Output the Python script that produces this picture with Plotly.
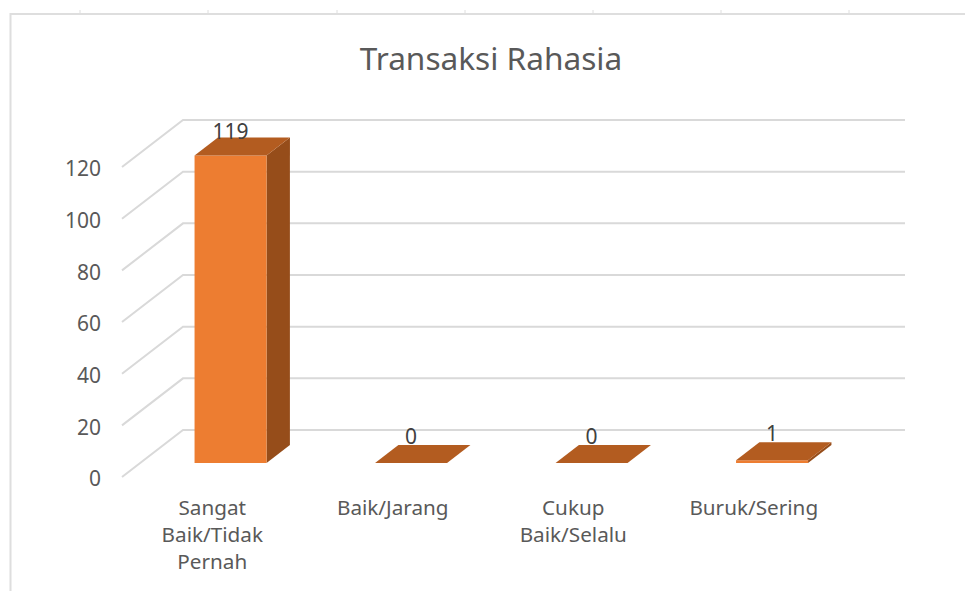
import plotly.graph_objects as go

TITLE = "Transaksi Rahasia"
categories = ["Sangat<br>Baik/Tidak<br>Pernah", "Baik/Jarang", "Cukup<br>Baik/Selalu", "Buruk/Sering"]
values = [119, 0, 0, 1]
value_ticks = [0, 20, 40, 60, 80, 100, 120]

# oblique projection of the 3D look, in axis units
PX_X, PX_Y = 180.5, 2.583          # pixels per category / per value
DEPTH_X, DEPTH_Y = 61 / PX_X, 47 / PX_Y
BAR_W = 72 / PX_X
D0, D1 = 0.30, 0.683
FONT = "Noto Sans"
TEXT = "#595959"
GRID = "#D9D9D9"
FRONT, TOP, SIDE = "#ED7D31", "#B35C20", "#964D1A"


def proj(cat, val, d):
    return cat + d * DEPTH_X, val + d * DEPTH_Y


def poly(points, color):
    xs, ys = zip(*[proj(*p) for p in points])
    return go.Scatter(x=list(xs) + [xs[0]], y=list(ys) + [ys[0]], mode="lines", fill="toself",
                      fillcolor=color, line=dict(width=0), hoverinfo="skip", showlegend=False)


def line(points):
    xs, ys = zip(*[proj(*p) for p in points])
    return go.Scatter(x=xs, y=ys, mode="lines", line=dict(color=GRID, width=2),
                      hoverinfo="skip", showlegend=False)


fig = go.Figure()
for t in value_ticks:
    fig.add_trace(line([(-0.5, t, 0), (-0.5, t, 1), (3.5, t, 1)]))

for i, v in enumerate(values):
    l, r = i - BAR_W / 2, i + BAR_W / 2
    fig.add_trace(poly([(r, 0, D0), (r, 0, D1), (r, v, D1), (r, v, D0)], SIDE))
    fig.add_trace(poly([(l, 0, D0), (r, 0, D0), (r, v, D0), (l, v, D0)], FRONT))
    fig.add_trace(poly([(l, v, D0), (r, v, D0), (r, v, D1), (l, v, D1)], TOP))

lx, ly = [], []
for i, v in enumerate(values):
    x, y = proj(i, v, D0)
    lx.append(x)
    ly.append(y + (22 if v > 100 else 24.5) / PX_Y)
fig.add_trace(go.Scatter(x=lx, y=ly, mode="text", text=[str(v) for v in values],
                         textposition="middle center",
                         textfont=dict(family=FONT, size=21, color="#404040"),
                         hoverinfo="skip", showlegend=False, cliponaxis=False))

W, H = 965, 591
LEFT, BOTTOM_PX = 102, 490
fig.update_layout(
    width=W, height=H, autosize=False,
    margin=dict(l=LEFT, r=0, t=0, b=H - BOTTOM_PX, pad=0),
    paper_bgcolor="white", plot_bgcolor="rgba(0,0,0,0)", showlegend=False,
    title=dict(text=TITLE, x=491 / W, xanchor="center", y=1 - 59 / H, yanchor="middle",
               font=dict(family=FONT, size=31.6, color=TEXT)),
    xaxis=dict(range=[-0.5 + (LEFT - 122) / PX_X, -0.5 + (W - 122) / PX_X],
               tickmode="array", tickvals=list(range(len(categories))), ticktext=categories,
               showgrid=False, zeroline=False, showline=False, ticks="", tickangle=0,
               ticklabelstandoff=3,
               tickfont=dict(family=FONT, size=20.7, color=TEXT)),
    yaxis=dict(range=[(477 - BOTTOM_PX) / PX_Y, 477 / PX_Y],
               tickmode="array", tickvals=value_ticks,
               showgrid=False, zeroline=False, showline=False, ticks="",
               ticklabelshift=2,
               tickfont=dict(family=FONT, size=21, color=TEXT)),
    shapes=[
        dict(type="line", xref="paper", yref="paper", x0=(10.5 - LEFT) / (W - LEFT),
             x1=(10.5 - LEFT) / (W - LEFT), y0=-(H - BOTTOM_PX) / BOTTOM_PX, y1=1 - 13 / BOTTOM_PX,
             line=dict(color="#DEDEDE", width=2)),
        dict(type="line", xref="paper", yref="paper", x0=(10 - LEFT) / (W - LEFT), x1=1,
             y0=1 - 14 / BOTTOM_PX, y1=1 - 14 / BOTTOM_PX, line=dict(color="#DEDEDE", width=2)),
    ] + [
        dict(type="line", xref="paper", yref="paper", x0=(px - LEFT) / (W - LEFT), x1=(px - LEFT) / (W - LEFT),
             y0=1 - 13 / BOTTOM_PX, y1=1 - 10 / BOTTOM_PX, line=dict(color="#DEDEDE", width=1))
        for px in [80, 208, 337, 465, 593, 721, 849]
    ],
)
fig.write_html("out.html", config={"displayModeBar": False},
               post_script="document.body.style.margin='0';document.body.style.overflow='hidden';")
